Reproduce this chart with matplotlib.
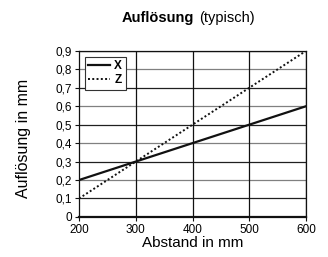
import matplotlib
matplotlib.use('Agg')
import matplotlib.pyplot as plt
from matplotlib import font_manager

names = {f.name for f in font_manager.fontManager.ttflist}
fam = 'Liberation Sans Narrow' if 'Liberation Sans Narrow' in names else 'Liberation Sans'
plt.rcParams['font.family'] = [fam, 'DejaVu Sans']

abstand = [200, 300, 400, 500, 600]
x_res = [0.2, 0.3, 0.4, 0.5, 0.6]
z_res = [0.1, 0.3, 0.5, 0.7, 0.9]
xticks = [200, 300, 400, 500, 600]
yticks = [0, 0.1, 0.2, 0.3, 0.4, 0.5, 0.6, 0.7, 0.8, 0.9]

fig = plt.figure(figsize=(3.28, 2.57), dpi=100)
ax = fig.add_axes([0.241, 0.156, 0.692, 0.646])

for i, y in enumerate(yticks[1:]):
    ax.axhline(y, color='#808080' if i % 2 else '#202020', lw=0.9, zorder=1)
for x in xticks[1:]:
    ax.axvline(x, color='#111111', lw=0.9, zorder=1)

ax.plot(abstand, x_res, color='#111111', lw=1.6, label='X', zorder=3)
ax.plot(abstand, z_res, color='#111111', lw=1.4, ls=(0, (1, 1.2)), label='Z', zorder=3)

ax.set_xlim(200, 600)
ax.set_ylim(0, 0.9)
ax.set_xticks(xticks)
ax.set_yticks(yticks)
ax.set_yticklabels(['0'] + [f'{v:.1f}'.replace('.', ',') for v in yticks[1:]])
ax.tick_params(labelsize=8.5, length=3, width=0.8, pad=2, color='#111111')
for s in ax.spines.values():
    s.set_color('#111111')
    s.set_linewidth(0.9)
ax.spines['bottom'].set_linewidth(1.6)

ax.set_xlabel('Abstand in mm', fontsize=11, labelpad=0)
ax.set_ylabel('Auflösung in mm', fontsize=11.5)
ax.yaxis.set_label_coords(-0.21, 0.47)

leg = ax.legend(loc='upper left', fontsize=8.5, handlelength=1.8, handletextpad=0.4,
                borderpad=0.3, labelspacing=0.15, borderaxespad=0, fancybox=False,
                framealpha=1, edgecolor='#333333', bbox_to_anchor=(0.025, 0.965))
leg.get_frame().set_linewidth(0.8)
for t in leg.get_texts():
    t.set_fontweight('bold')

fig.text(0.59, 0.93, 'Auflösung', fontsize=10.5, fontweight='bold', ha='right', va='center')
fig.text(0.608, 0.93, '(typisch)', fontsize=10.5, ha='left', va='center')

fig.savefig('out.png', dpi=100)
